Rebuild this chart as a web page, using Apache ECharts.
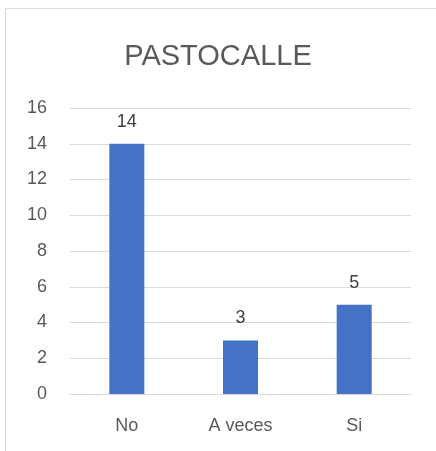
<!DOCTYPE html>
<html>
<head>
<meta charset="utf-8">
<script src="https://cdn.jsdelivr.net/npm/echarts@6/dist/echarts.min.js"></script>
<style>
  html, body { margin: 0; padding: 0; background: #fff; }
  #chart { width: 436px; height: 451px; }
</style>
</head>
<body>
<div id="chart"></div>
<script>
// Responses to "PASTOCALLE"
const categories = ['No', 'A veces', 'Si'];
const counts = [14, 3, 5];
const yTicks = [0, 2, 4, 6, 8, 10, 12, 14, 16];

const textColor = '#595959';
const gridColor = '#d9d9d9';
const font = '"Liberation Sans", Arial, sans-serif';

const chart = echarts.init(document.getElementById('chart'), null, { renderer: 'canvas' });
chart.setOption({
  animation: false,
  backgroundColor: '#ffffff',
  graphic: [{
    type: 'rect',
    shape: { x: 5.5, y: 8.5, width: 440, height: 460 },
    style: { fill: 'none', stroke: gridColor, lineWidth: 1 },
    silent: true
  }],
  title: {
    text: 'PASTOCALLE',
    left: 'center',
    top: 37,
    textStyle: { fontFamily: font, fontSize: 29, fontWeight: 'normal', color: textColor }
  },
  grid: { left: 70, right: 25, top: 108, bottom: 57, containLabel: false },
  xAxis: {
    type: 'category',
    data: categories,
    axisLine: { show: true, lineStyle: { color: gridColor, width: 1 } },
    axisTick: { show: false },
    axisLabel: { color: textColor, fontFamily: font, fontSize: 18, margin: 23 }
  },
  yAxis: {
    type: 'value',
    min: yTicks[0],
    max: yTicks[yTicks.length - 1],
    interval: yTicks[1] - yTicks[0],
    axisLine: { show: false },
    axisTick: { show: false },
    splitLine: { lineStyle: { color: gridColor, width: 1 } },
    axisLabel: { color: textColor, fontFamily: font, fontSize: 18, margin: 23 }
  },
  series: [{
    type: 'bar',
    data: counts,
    barWidth: 35,
    itemStyle: { color: '#4472C4' },
    label: {
      show: true,
      position: 'top',
      distance: 13,
      color: '#404040',
      fontFamily: font,
      fontSize: 18
    }
  }]
});
</script>
</body>
</html>
